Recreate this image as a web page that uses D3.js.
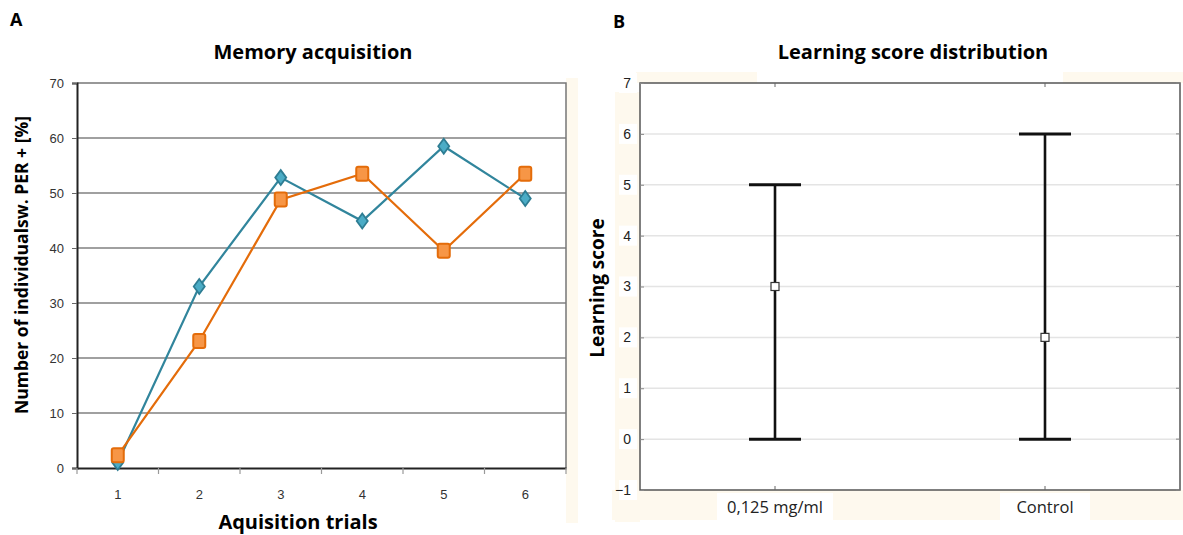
<!DOCTYPE html>
<html><head><meta charset="utf-8">
<script src="https://cdn.jsdelivr.net/npm/d3@7/dist/d3.min.js"></script>
<style>
html,body{margin:0;padding:0;background:#fff;}
svg{display:block;font-family:Lato,"Open Sans",sans-serif;}
.ttl{font-family:"Open Sans",Lato,sans-serif;font-weight:bold;}
</style></head>
<body>
<svg id="chart" width="1183" height="535"></svg>
<script>
// ---- Panel A data ----
const trials = ["1","2","3","4","5","6"];
const seriesBlue = [1.0, 33.0, 52.8, 44.9, 58.5, 49.0];
const seriesOrange = [2.3, 23.1, 48.8, 53.5, 39.5, 53.5];
const yTicksA = [0,10,20,30,40,50,60,70];
// ---- Panel B data ----
const groups = ["0,125 mg/ml","Control"];
const medians = [3, 2];
const mins = [0, 0];
const maxs = [5, 6];
const yTicksB = [-1,0,1,2,3,4,5,6,7];

const svg = d3.select("#chart");

// ================= Panel A =================
const A = {l:77, r:566, t:83, b:468};
const xA = d3.scaleBand().domain(trials).range([A.l, A.r]);
const yA = d3.scaleLinear().domain([0,70]).range([A.b, A.t]);
const gA = svg.append("g");

gA.append("rect").attr("x", A.r).attr("y", 78).attr("width", 12).attr("height", 445).attr("fill", "#FEF9EE");

gA.append("g").selectAll("line").data(yTicksA.filter(d=>d>0 && d<70)).join("line")
  .attr("x1", A.l).attr("x2", A.r).attr("y1", d=>yA(d)).attr("y2", d=>yA(d))
  .attr("stroke", "#A0A0A0").attr("stroke-width", 1.8);
gA.append("path").attr("d", `M${A.l},${A.t}H${A.r}V${A.b}`).attr("fill","none").attr("stroke","#777").attr("stroke-width",1.5);

const yAxisA = gA.append("g").attr("transform", `translate(${A.l},0)`)
  .call(d3.axisLeft(yA).tickValues(yTicksA).tickSize(5).tickPadding(8));
yAxisA.select(".domain").attr("stroke","#222").attr("stroke-width",2);
yAxisA.selectAll(".tick line").attr("stroke","#666");
yAxisA.selectAll("text").attr("font-size",13).attr("fill","#333");

const xAxisA = gA.append("g").attr("transform", `translate(0,${A.b})`)
  .call(d3.axisBottom(xA).tickSize(0).tickPadding(22));
xAxisA.select(".domain").attr("stroke","#222").attr("stroke-width",2);
xAxisA.selectAll("text").attr("font-size",13).attr("fill","#333");
gA.append("g").selectAll("line").data(trials.concat(["end"])).join("line")
  .attr("x1", (d,i)=> i<trials.length ? xA(d) : A.r)
  .attr("x2", (d,i)=> i<trials.length ? xA(d) : A.r)
  .attr("y1", A.b).attr("y2", A.b+6).attr("stroke","#999").attr("stroke-width",1.2);

const lineA = vals => d3.line().x((d,i)=>xA(trials[i])+xA.bandwidth()/2).y(d=>yA(d))(vals);

gA.append("path").attr("d", lineA(seriesBlue)).attr("fill","none").attr("stroke","#31859C").attr("stroke-width",2.2);
gA.append("path").attr("d", lineA(seriesOrange)).attr("fill","none").attr("stroke","#E46C0A").attr("stroke-width",2.2);

gA.append("g").selectAll("path").data(seriesBlue).join("path")
  .attr("transform",(d,i)=>`translate(${xA(trials[i])+xA.bandwidth()/2},${yA(d)})`)
  .attr("d","M0,-7.5L5.5,0L0,7.5L-5.5,0Z")
  .attr("fill","#4BACC6").attr("stroke","#2E7D93").attr("stroke-width",1.8);
gA.append("g").selectAll("rect").data(seriesOrange).join("rect")
  .attr("x",(d,i)=>xA(trials[i])+xA.bandwidth()/2-6).attr("y",d=>yA(d)-7)
  .attr("width",12).attr("height",14).attr("rx",2)
  .attr("fill","#F79646").attr("stroke","#E46C0A").attr("stroke-width",2);

svg.append("text").attr("class","ttl").attr("x",10).attr("y",26).attr("font-size",18).attr("fill","#000").text("A");
svg.append("text").attr("class","ttl").attr("x",313).attr("y",59).attr("text-anchor","middle").attr("font-size",20).attr("fill","#000").text("Memory acquisition");
svg.append("text").attr("class","ttl").attr("x",298).attr("y",529).attr("text-anchor","middle").attr("font-size",20).attr("fill","#000").text("Aquisition trials");
svg.append("text").attr("class","ttl").attr("transform","translate(28,265) rotate(-90)").attr("text-anchor","middle").attr("font-size",17.5).attr("fill","#000").text("Number of individualsw. PER + [%]");

// ================= Panel B =================
const B = {l:640, r:1180, t:83, b:490};
const xB = d3.scaleBand().domain(groups).range([B.l, B.r]);
const yB = d3.scaleLinear().domain([-1,7]).range([B.b, B.t]);
const gB = svg.append("g");

const cream = "#FEF9EE";
gB.append("rect").attr("x",636).attr("y",72).attr("width",547).attr("height",11).attr("fill",cream);
gB.append("rect").attr("x",757).attr("y",70).attr("width",306).attr("height",13).attr("fill","#fff");
gB.append("rect").attr("x",615).attr("y",92).attr("width",25).attr("height",430).attr("fill",cream);
gB.append("rect").attr("x",612).attr("y",B.b).attr("width",571).attr("height",30).attr("fill",cream);
gB.append("g").selectAll("rect").data(yTicksB).join("rect")
  .attr("x",619).attr("y",d=>yB(d)-10).attr("width",18).attr("height",20).attr("fill","#fff");
gB.append("g").selectAll("rect").data(groups).join("rect")
  .attr("x",d=>xB(d)+xB.bandwidth()/2-(d==="Control"?45:58)).attr("y",B.b+3)
  .attr("width",d=>d==="Control"?90:116).attr("height",30).attr("fill","#fff");
gB.append("rect").attr("x",B.l).attr("y",B.t).attr("width",B.r-B.l).attr("height",B.b-B.t).attr("fill","#fff");

gB.append("g").selectAll("line").data(yTicksB.filter(d=>d>-1 && d<7)).join("line")
  .attr("x1",B.l).attr("x2",B.r).attr("y1",d=>yB(d)).attr("y2",d=>yB(d))
  .attr("stroke","#E4E4E4").attr("stroke-width",1.5);

gB.append("rect").attr("x",B.l).attr("y",B.t).attr("width",B.r-B.l).attr("height",B.b-B.t)
  .attr("fill","none").attr("stroke","#555").attr("stroke-width",1.5);

const yAxisB = gB.append("g").attr("transform",`translate(${B.l},0)`)
  .call(d3.axisLeft(yB).tickValues(yTicksB).tickSize(-4).tickPadding(9).tickFormat(d3.format("d")));
yAxisB.select(".domain").remove();
yAxisB.selectAll(".tick line").attr("stroke","#888");
yAxisB.selectAll("text").attr("font-size",14).attr("fill","#222");
gB.append("g").selectAll("line").data(yTicksB).join("line")
  .attr("x1",B.r).attr("x2",B.r-4).attr("y1",d=>yB(d)).attr("y2",d=>yB(d)).attr("stroke","#888");

const xAxisB = gB.append("g").attr("transform",`translate(0,${B.b})`)
  .call(d3.axisBottom(xB).tickSize(-4).tickPadding(11));
xAxisB.select(".domain").remove();
xAxisB.selectAll(".tick line").attr("stroke","#666");
xAxisB.selectAll("text").attr("font-size",16.5).attr("fill","#222").attr("font-family","'Open Sans',Lato,sans-serif");
gB.append("g").selectAll("line").data(groups).join("line")
  .attr("x1",d=>xB(d)+xB.bandwidth()/2).attr("x2",d=>xB(d)+xB.bandwidth()/2)
  .attr("y1",B.t).attr("y2",B.t+4).attr("stroke","#666");

const cx = d => xB(d)+xB.bandwidth()/2;
gB.append("g").selectAll("line").data(groups).join("line")
  .attr("x1",d=>cx(d)).attr("x2",d=>cx(d))
  .attr("y1",(d,i)=>yB(mins[i])).attr("y2",(d,i)=>yB(maxs[i]))
  .attr("stroke","#111").attr("stroke-width",2.6);
gB.append("g").selectAll("line").data(groups).join("line")
  .attr("x1",d=>cx(d)-26).attr("x2",d=>cx(d)+26)
  .attr("y1",(d,i)=>yB(maxs[i])).attr("y2",(d,i)=>yB(maxs[i]))
  .attr("stroke","#111").attr("stroke-width",3);
gB.append("g").selectAll("line").data(groups).join("line")
  .attr("x1",d=>cx(d)-26).attr("x2",d=>cx(d)+26)
  .attr("y1",(d,i)=>yB(mins[i])).attr("y2",(d,i)=>yB(mins[i]))
  .attr("stroke","#111").attr("stroke-width",3);
gB.append("g").selectAll("rect").data(groups).join("rect")
  .attr("x",d=>cx(d)-4).attr("y",(d,i)=>yB(medians[i])-4).attr("width",8).attr("height",8)
  .attr("fill","#fff").attr("stroke","#333").attr("stroke-width",1.2);

svg.append("text").attr("class","ttl").attr("x",613).attr("y",28).attr("font-size",18).attr("fill","#000").text("B");
svg.append("text").attr("class","ttl").attr("x",913).attr("y",59).attr("text-anchor","middle").attr("font-size",20).attr("fill","#000").text("Learning score distribution");
svg.append("text").attr("class","ttl").attr("transform","translate(604,288) rotate(-90)").attr("text-anchor","middle").attr("font-size",19).attr("fill","#000").text("Learning score");
</script>
</body></html>
